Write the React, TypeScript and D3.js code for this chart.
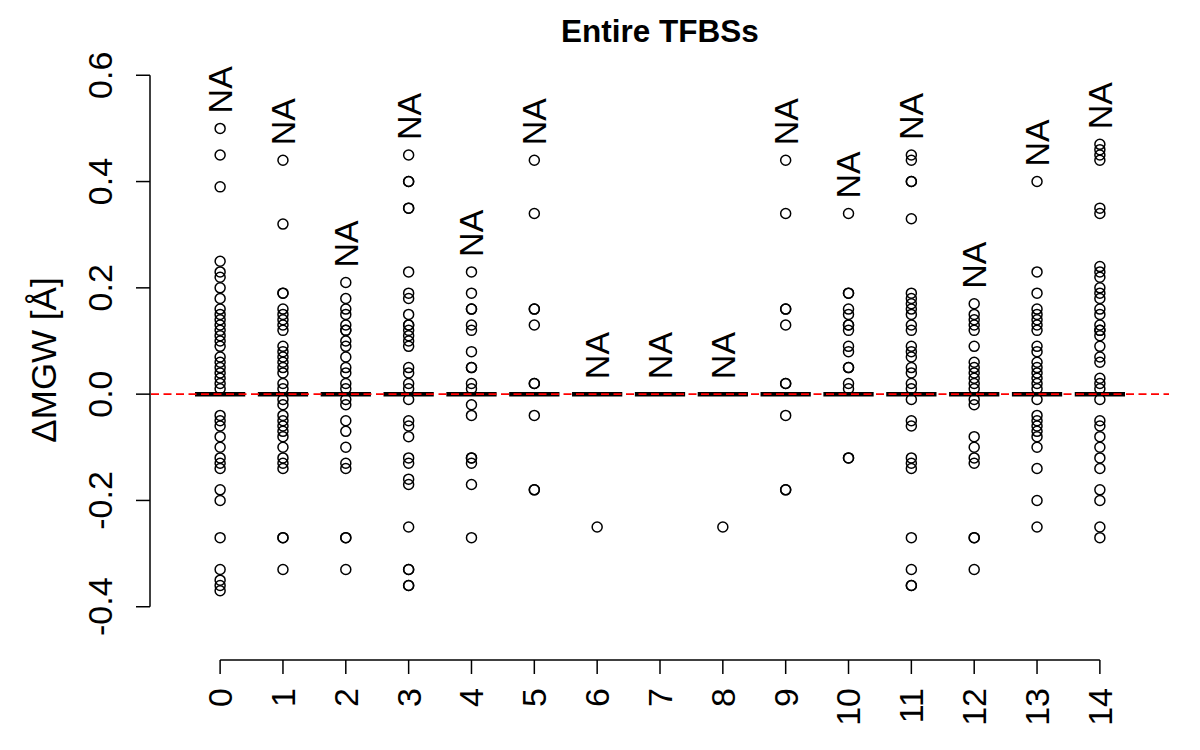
import React from "react";
import * as d3 from "d3";

const categories = ["0","1","2","3","4","5","6","7","8","9","10","11","12","13","14"];
const yTicks = [-0.4, -0.2, 0.0, 0.2, 0.4, 0.6];

const g0 = [0.50,0.45,0.39,0.25,0.23,0.22,0.20,0.18,0.16,0.15,0.14,0.13,0.12,0.11,0.10,0.09,0.07,0.06,0.05,0.04,0.03,0.02,0.01,-0.04,-0.05,-0.06,-0.08,-0.10,-0.12,-0.13,-0.14,-0.18,-0.20,-0.27,-0.33,-0.35,-0.36,-0.37];
const g1 = [0.44,0.32,0.19,0.19,0.16,0.15,0.14,0.13,0.12,0.09,0.08,0.07,0.06,0.05,0.04,0.02,0.01,-0.01,-0.02,-0.04,-0.05,-0.06,-0.07,-0.08,-0.10,-0.12,-0.13,-0.14,-0.27,-0.27,-0.33];
const g2 = [0.21,0.18,0.16,0.15,0.13,0.12,0.12,0.10,0.09,0.07,0.05,0.04,0.02,0.01,-0.01,-0.02,-0.05,-0.07,-0.10,-0.13,-0.14,-0.27,-0.27,-0.33];
const g3 = [0.45,0.40,0.40,0.35,0.35,0.23,0.19,0.18,0.15,0.13,0.13,0.12,0.11,0.10,0.09,0.05,0.04,0.02,0.01,-0.01,-0.05,-0.06,-0.08,-0.12,-0.13,-0.16,-0.17,-0.25,-0.33,-0.33,-0.36,-0.36];
const g4 = [0.23,0.19,0.16,0.16,0.13,0.12,0.08,0.05,0.05,0.02,0.01,-0.02,-0.04,-0.12,-0.12,-0.13,-0.17,-0.27];
const g5 = [0.44,0.34,0.16,0.16,0.13,0.02,0.02,-0.04,-0.18,-0.18];
const g6 = [-0.25];
const g7: number[] = [];
const g8 = [-0.25];
const g9 = [0.44,0.34,0.16,0.16,0.13,0.02,0.02,-0.04,-0.18,-0.18];
const g10 = [0.34,0.19,0.19,0.16,0.15,0.13,0.13,0.12,0.09,0.08,0.05,0.05,0.02,0.01,-0.12,-0.12];
const g11 = [0.45,0.44,0.40,0.40,0.33,0.19,0.18,0.17,0.16,0.15,0.13,0.12,0.09,0.08,0.07,0.05,0.04,0.02,0.01,-0.01,-0.05,-0.06,-0.12,-0.13,-0.14,-0.27,-0.33,-0.36,-0.36];
const g12 = [0.17,0.15,0.14,0.13,0.12,0.09,0.06,0.05,0.04,0.03,0.02,0.01,-0.01,-0.02,-0.08,-0.10,-0.12,-0.13,-0.27,-0.27,-0.33];
const g13 = [0.40,0.23,0.19,0.16,0.15,0.14,0.13,0.12,0.09,0.08,0.06,0.05,0.04,0.03,0.02,0.01,-0.01,-0.04,-0.05,-0.06,-0.07,-0.08,-0.10,-0.14,-0.20,-0.25];
const g14 = [0.47,0.46,0.45,0.44,0.35,0.34,0.24,0.23,0.22,0.20,0.19,0.18,0.16,0.15,0.13,0.12,0.12,0.11,0.09,0.07,0.06,0.03,0.02,0.01,-0.01,-0.05,-0.06,-0.08,-0.10,-0.12,-0.14,-0.18,-0.20,-0.25,-0.27];

const groups = [g0,g1,g2,g3,g4,g5,g6,g7,g8,g9,g10,g11,g12,g13,g14];
const medians = [0,0,0,0,0,0,0,0,0,0,0,0,0,0,0];

export default function App() {
  const x = d3.scaleLinear().domain([-0.1, 16.1]).range([151, 1169]);
  const y = d3.scaleLinear().domain([-0.44, 0.64]).range([628, 54]);
  const font = "'Liberation Sans', Arial, Helvetica, sans-serif";
  const halfBox = x(1.4) - x(1);
  const xAxisY = 660;
  const yAxisX = 150;

  return (
    <svg width={1200} height={750} style={{ position: "absolute", left: 0, top: 0, background: "#fff" }} fontFamily={font}>
      <rect x={0} y={0} width={1200} height={750} fill="#fff" />
      <text x={660} y={42} textAnchor="middle" fontWeight="bold" fontSize={31.5}>Entire TFBSs</text>

      {/* y axis */}
      <line x1={yAxisX} x2={yAxisX} y1={y(-0.4)} y2={y(0.6)} stroke="#000" strokeWidth={1.5} />
      {yTicks.map((t) => (
        <g key={t}>
          <line x1={yAxisX - 14} x2={yAxisX} y1={y(t)} y2={y(t)} stroke="#000" strokeWidth={1.5} />
          <text transform={`translate(112,${y(t)}) rotate(-90)`} textAnchor="middle" fontSize={34}>{t.toFixed(1)}</text>
        </g>
      ))}
      <text transform={`translate(56,360) rotate(-90)`} textAnchor="middle" fontSize={35}>ΔMGW [Å]</text>

      {/* x axis */}
      <line x1={x(1)} x2={x(15)} y1={xAxisY} y2={xAxisY} stroke="#000" strokeWidth={1.5} />
      {categories.map((c, i) => (
        <g key={c}>
          <line x1={x(i + 1)} x2={x(i + 1)} y1={xAxisY} y2={xAxisY + 14} stroke="#000" strokeWidth={1.5} />
          <text transform={`translate(${x(i + 1)},688) rotate(-90)`} textAnchor="end" dy="0.35em" fontSize={34}>{c}</text>
        </g>
      ))}

      {/* boxes (collapsed to medians) and outliers */}
      {groups.map((vals, i) => {
        const cx = x(i + 1);
        const top = Math.max(0, d3.max(vals) ?? 0);
        return (
          <g key={i}>
            <line x1={cx - halfBox} x2={cx + halfBox} y1={y(medians[i])} y2={y(medians[i])} stroke="#000" strokeWidth={4.5} />
            {vals.map((v, j) => (
              <circle key={j} cx={cx} cy={y(v)} r={5} fill="none" stroke="#000" strokeWidth={1.5} />
            ))}
            <text transform={`translate(${cx},${y(top) - 15}) rotate(-90)`} textAnchor="start" dy="0.35em" fontSize={34}>NA</text>
          </g>
        );
      })}

      <line x1={151} x2={1169} y1={y(0)} y2={y(0)} stroke="#ff0000" strokeWidth={1.6} strokeDasharray="8,4.5" />
    </svg>
  );
}
